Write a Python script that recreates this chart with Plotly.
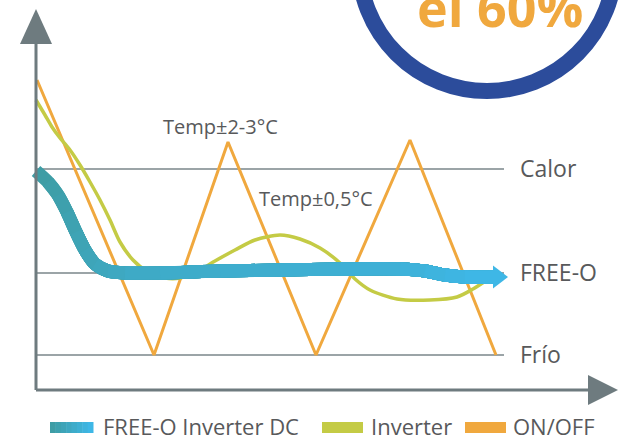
import plotly.graph_objects as go

# ---------------- data (time units along x, temperature units along y) ----------
levels = {"Calor": 221, "FREE-O": 117, "Frío": 35}

onoff_t = [1, 118, 192, 280, 374, 460]
onoff_y = [310, 35, 248, 35, 250, 35]

inv_t = [0, 9, 16, 24, 34, 44, 54, 64, 74, 84, 97, 112, 129, 144, 164, 179, 199,
         219, 244, 264, 284, 304, 319, 334, 361, 394, 421, 437, 454]
inv_y = [290, 275, 263, 252, 240, 225, 208, 190, 170, 148, 130, 118, 112, 112, 120,
         129, 140, 150, 155, 151, 142, 127, 111, 100, 91, 90, 93, 101, 112]

free_t = [0, 12, 22, 31, 40, 49, 59, 72, 89, 124, 184, 244, 304, 364, 389, 409, 429, 462]
free_y = [219, 208, 195, 178, 158, 140, 126, 119, 117, 117, 119, 120, 121, 121, 119,
          115, 113, 113]

legend_names = ["FREE-O Inverter DC", "Inverter", "ON/OFF"]
notes = ["Temp±2-3°C", "Temp±0,5°C"]
badge_text = "el 60%"

# ---------------- styles ----------------
FONT = "Open Sans"
TXT = "#58595B"
AXC = "#6E7B7F"
GRID = "#7A868A"
ORANGE = "#F0A83E"
GREEN = "#C4CB45"
TEAL0 = (62, 157, 165)
TEAL1 = (62, 183, 230)
NAVY = "#2C4C9B"


def mix(a, b, f):
    return "rgb(%d,%d,%d)" % tuple(round(a[i] + (b[i] - a[i]) * f) for i in range(3))


fig = go.Figure()

# gridlines
for name, lv in levels.items():
    fig.add_shape(type="line", x0=0, x1=468, y0=lv, y1=lv,
                  line=dict(color=GRID, width=1.5), layer="below")

# ON/OFF
fig.add_trace(go.Scatter(x=onoff_t, y=onoff_y, mode="lines",
                         line=dict(color=ORANGE, width=3), hoverinfo="skip"))
# Inverter
fig.add_trace(go.Scatter(x=inv_t, y=inv_y, mode="lines",
                         line=dict(color=GREEN, width=3.5, shape="spline", smoothing=0.8),
                         hoverinfo="skip"))
# FREE-O with gradient (successive overlays)
n = len(free_t)
for k in range(n - 1):
    f = k / (n - 2)
    fig.add_trace(go.Scatter(x=free_t[k:], y=free_y[k:], mode="lines",
                             line=dict(color=mix(TEAL0, TEAL1, f), width=13,
                                       shape="spline", smoothing=0.8),
                             hoverinfo="skip"))
fig.add_trace(go.Scatter(x=[free_t[-1]], y=[free_y[-1]], mode="markers",
                         marker=dict(symbol="triangle-right", size=20,
                                     color=mix(TEAL0, TEAL1, 1)),
                         hoverinfo="skip"))

# axes with arrows
fig.add_shape(type="line", x0=0, x1=0, y0=0, y1=346, line=dict(color=AXC, width=3))
fig.add_shape(type="line", x0=0, x1=553, y0=0, y1=0, line=dict(color=AXC, width=3))
fig.add_shape(type="path", path="M -16,346 L 16,346 L 0,381 Z",
              fillcolor=AXC, line=dict(width=0))
fig.add_shape(type="path", path="M 552,-15 L 552,15 L 582,0 Z",
              fillcolor=AXC, line=dict(width=0))

# level labels
for name, lv in levels.items():
    fig.add_annotation(x=482, y=lv + 1, text=name, showarrow=False, xanchor="left",
                       yanchor="middle", font=dict(family=FONT, size=23, color=TXT))

# notes
fig.add_annotation(x=125, y=264, text=notes[0], showarrow=False, xanchor="left",
                   yanchor="middle", font=dict(family=FONT, size=20, color=TXT))
fig.add_annotation(x=221, y=192, text=notes[1], showarrow=False, xanchor="left",
                   yanchor="middle", font=dict(family=FONT, size=20, color=TXT))

# legend (custom)
sw_x = [14, 286, 429]
tx_x = [65, 333, 475]
leg_y = -36
# gradient swatch
steps = 8
for i in range(steps):
    fig.add_shape(type="rect", x0=sw_x[0] + 43 * i / steps, x1=sw_x[0] + 43 * (i + 1) / steps + 0.5,
                  y0=leg_y - 7, y1=leg_y + 4, fillcolor=mix(TEAL0, TEAL1, i / (steps - 1)),
                  line=dict(width=0))
for xs, col in zip(sw_x[1:], [GREEN, ORANGE]):
    fig.add_shape(type="rect", x0=xs, x1=xs + 41, y0=leg_y - 7, y1=leg_y + 4,
                  fillcolor=col, line=dict(width=0))
for xt, name in zip(tx_x, legend_names):
    fig.add_annotation(x=xt, y=leg_y, text=name, showarrow=False, xanchor="left",
                       yanchor="middle", font=dict(family=FONT, size=22, color=TXT))

# badge circle
fig.add_shape(type="circle", x0=323, x1=579, y0=299, y1=555,
              line=dict(color=NAVY, width=16), fillcolor="white")
fig.add_annotation(x=379, y=346, text="<b>%s</b>" % badge_text, showarrow=False,
                   xanchor="left", yanchor="bottom",
                   font=dict(family=FONT, size=52, color=ORANGE))

fig.update_layout(
    width=618, height=438, margin=dict(l=0, r=0, t=0, b=0),
    paper_bgcolor="white", plot_bgcolor="white", showlegend=False,
    xaxis=dict(range=[-36, 582], visible=False, fixedrange=True),
    yaxis=dict(range=[-48, 390], visible=False, fixedrange=True),
)
fig.write_html("out.html", config={"displayModeBar": False},
               post_script="document.body.style.margin='0';document.body.style.overflow='hidden';")
